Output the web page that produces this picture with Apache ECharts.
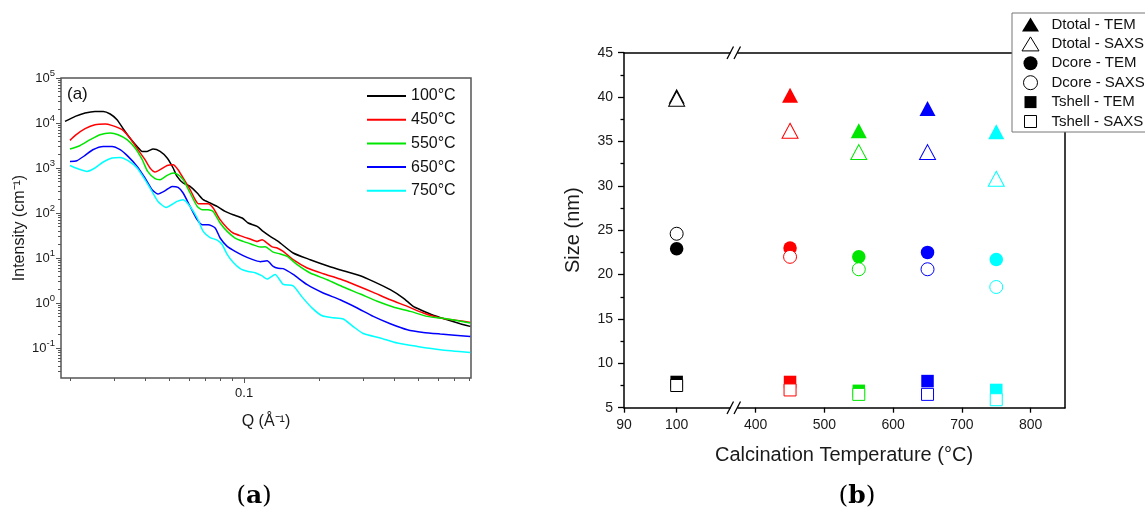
<!DOCTYPE html>
<html><head><meta charset="utf-8">
<script src="https://cdn.jsdelivr.net/npm/echarts@6/dist/echarts.min.js"></script>
<style>html,body{margin:0;padding:0;background:#fff}#c{width:1145px;height:510px}</style>
</head><body><div id="c"></div>
<script>
// ---------- Panel (a): SAXS curves ----------
const seriesNamesA = ['100°C', '450°C', '550°C', '650°C', '750°C'];
const q100 = [0.0191,0.0210,0.0230,0.0252,0.0272,0.0290,0.0309,0.0327,0.0348,0.0372,0.0390,0.0408,0.0431,0.0460,0.0491,0.0519,0.0538,0.0569,0.0607,0.0648,0.0685,0.0730,0.0779,0.0839,0.0903,0.0982,0.1038,0.1128,0.1192,0.1272,0.1369,0.1573,0.1841,0.2154,0.2498,0.2924,0.3297,0.3858,0.4352,0.4772,0.5091,0.5741,0.6536,0.7370,0.8083];
const i100 = [10850,14020,16680,18100,18100,15850,11840,7470,4640,3020,2340,2340,2640,2340,1670,1000,651,464,390,278,198,167,140,108.5,91.7,77.4,59.9,50.4,39.0,30.2,23.4,12.9,9.17,6.74,5.22,4.04,3.02,1.98,1.29,0.84,0.71,0.536,0.426,0.347,0.302];
const q450 = [0.0200,0.0210,0.0230,0.0252,0.0277,0.0294,0.0324,0.0348,0.0375,0.0400,0.0419,0.0439,0.0460,0.0491,0.0519,0.0543,0.0569,0.0607,0.0636,0.0654,0.0685,0.0717,0.0751,0.0801,0.0855,0.0903,0.0982,0.1057,0.1128,0.1181,0.1237,0.1296,0.1357,0.1434,0.1573,0.1791,0.2076,0.2429,0.2843,0.3297,0.3858,0.4516,0.5235,0.6125,0.7166,0.8083];
const i450 = [4105,5300,7470,9170,9500,8840,7100,4640,2550,1530,1000,815,917,1140,1180,917,600,330,198,161,161,161,129,71.0,46.4,35.9,30.2,26.4,23.4,25.5,21.5,17.6,16.7,14.0,9.17,6.0,4.48,3.41,2.42,1.72,1.18,0.84,0.60,0.464,0.411,0.371];
const q550 = [0.0200,0.0219,0.0241,0.0264,0.0290,0.0312,0.0339,0.0365,0.0390,0.0410,0.0439,0.0460,0.0491,0.0519,0.0543,0.0569,0.0607,0.0648,0.0678,0.0717,0.0751,0.0801,0.0855,0.0920,0.0991,0.1077,0.1160,0.1214,0.1308,0.1395,0.1489,0.1633,0.1841,0.2154,0.2498,0.2924,0.3420,0.3967,0.4642,0.5432,0.6536,0.8083];
const i550 = [2640,3130,4260,5500,6000,5500,4260,2780,1530,840,578,550,685,774,710,550,278,140,118,118,108.5,59.9,39.0,27.8,23.4,20.0,17.5,17.8,13.5,12.3,10.9,7.10,4.64,3.29,2.27,1.58,1.09,0.815,0.651,0.504,0.441,0.359];
const q650 = [0.0200,0.0213,0.0230,0.0247,0.0272,0.0295,0.0318,0.0342,0.0372,0.0400,0.0427,0.0451,0.0482,0.0514,0.0543,0.0569,0.0607,0.0648,0.0678,0.0717,0.0765,0.0801,0.0855,0.0920,0.0991,0.1077,0.1160,0.1237,0.1308,0.1369,0.1434,0.1573,0.1791,0.2076,0.2429,0.2843,0.3297,0.3858,0.4516,0.5235,0.6125,0.8083];
const i650 = [1400,1450,1905,2550,3020,3020,2550,1810,1085,600,330,264,313,390,371,278,140,71.0,55.0,55.0,46.4,27.8,18.1,14.0,11.3,9.3,8.3,8.7,6.5,5.9,5.8,4.3,2.55,1.67,1.18,0.774,0.504,0.347,0.255,0.222,0.205,0.181];
const q750 = [0.0200,0.0215,0.0234,0.0252,0.0272,0.0295,0.0318,0.0342,0.0372,0.0400,0.0427,0.0451,0.0486,0.0538,0.0569,0.0607,0.0648,0.0685,0.0730,0.0779,0.0816,0.0855,0.0903,0.0964,0.1038,0.1107,0.1181,0.1237,0.1332,0.1434,0.1573,0.1710,0.1875,0.2057,0.2277,0.2498,0.2741,0.3005,0.3516,0.4116,0.4953,0.6125,0.8083];
const i750 = [1140,965,840,1000,1360,1670,1720,1450,1000,550,302,181,133,181,198,140,77.4,39.0,28.5,25.0,20.0,12.0,8.0,5.8,5.0,4.7,4.0,3.4,4.3,2.6,2.4,1.35,0.77,0.52,0.47,0.44,0.30,0.21,0.167,0.129,0.1085,0.0917,0.0798];

const xMajorA = [0.1];
const xMajorLabelsA = ['0.1'];
const xMinorA = [0.02,0.03,0.04,0.05,0.06,0.07,0.08,0.09,0.2,0.3,0.4,0.5,0.6,0.7,0.8];
const yMajorA = [0.1, 1, 10, 100, 1000, 10000, 100000];
const yMajorExpA = ['-1', '0', '1', '2', '3', '4', '5'];

// ---------- Panel (b): sizes ----------
const temps = [100, 450, 550, 650, 750];
const tempColors = ['#000000', '#ff0000', '#00e600', '#0000ff', '#00ffff'];
const dtotalTEM  = [40.1, 40.2, 36.2, 38.7, 36.1];
const dtotalSAXS = [39.8, 36.2, 33.8, 33.8, 30.8];
const dcoreTEM   = [22.9, 23.0, 22.0, 22.5, 21.7];
const dcoreSAXS  = [24.6, 22.0, 20.6, 20.6, 18.6];
const tshellTEM  = [7.9, 7.9, 6.9, 8.0, 7.0];
const tshellSAXS = [7.5, 7.0, 6.5, 6.5, 5.9];
const xTicksLeftB = [90, 100];
const xTicksRightB = [400, 500, 600, 700, 800];

const FONT = '"Liberation Sans", Arial, Helvetica, sans-serif';
const chart = echarts.init(document.getElementById('c'), null, {renderer: 'canvas'});

function nearestIndex(v, ticks) {
  let best = 0, bd = Infinity;
  ticks.forEach((t, i) => { const d = Math.abs(Math.log10(v) - Math.log10(t)); if (d < bd) { bd = d; best = i; } });
  return best;
}

// minor ticks of the log y axis (2..9 per decade)
const yMinorA = [];
[0.01, 0.1, 1, 10, 100, 1000, 10000].forEach(d => { for (let k = 2; k <= 9; k++) yMinorA.push(+(k * d).toPrecision(3)); });

const curvesA = [[q100, i100], [q450, i450], [q550, i550], [q650, i650], [q750, i750]];
const series = curvesA.map((c, k) => ({
  type: 'line', name: seriesNamesA[k], xAxisIndex: 0, yAxisIndex: 0,
  data: c[0].map((q, j) => [q, c[1][j]]),
  symbol: 'none', smooth: 0.2,
  lineStyle: {color: tempColors[k], width: 1.5}, itemStyle: {color: tempColors[k]},
  emphasis: {disabled: true}, z: 3
}));

// legend icon shapes (bounding box 32x14, shape centred)
const iconTri = 'path://M0,0 M32,14 M16,0 L24.5,14 L7.5,14 Z';
const iconSq = 'path://M0,0 M32,14 M10,1 L22,1 L22,13 L10,13 Z';

const leftMaxB = 110.7, rightMinB = 367;
const measures = [
  {name: 'Dtotal - TEM',  values: dtotalTEM,  symbol: 'triangle', icon: iconTri, open: false, size: [16, 15]},
  {name: 'Dtotal - SAXS', values: dtotalSAXS, symbol: 'triangle', icon: iconTri, open: true,  size: [16, 15]},
  {name: 'Dcore - TEM',   values: dcoreTEM,   symbol: 'circle',   icon: 'circle', open: false, size: 13.5},
  {name: 'Dcore - SAXS',  values: dcoreSAXS,  symbol: 'circle',   icon: 'circle', open: true,  size: 13},
  {name: 'Tshell - TEM',  values: tshellTEM,  symbol: 'rect',     icon: iconSq, open: false, size: 12.5},
  {name: 'Tshell - SAXS', values: tshellSAXS, symbol: 'rect',     icon: iconSq, open: true,  size: 12}
];
measures.forEach((m, mi) => {
  const left = [], right = [];
  temps.forEach((t, i) => {
    const item = {value: [t, m.values[i]],
      itemStyle: m.open ? {color: '#ffffff', borderColor: tempColors[i], borderWidth: 1, opacity: 1}
                        : {color: tempColors[i], borderWidth: 0, opacity: 1}};
    (t <= leftMaxB ? left : right).push(item);
  });
  const base = {type: 'scatter', name: m.name, symbol: m.symbol, symbolSize: m.size,
    itemStyle: {opacity: 1}, emphasis: {disabled: true}, z: 3 + mi * 0.1};
  series.push(Object.assign({}, base, {xAxisIndex: 2, yAxisIndex: 2, data: left}));
  series.push(Object.assign({}, base, {xAxisIndex: 4, yAxisIndex: 3, data: right}));
});

const axisColA = '#555';
const lblCol = '#1a1a1a';
const blk = {color: '#000', width: 1.5};

const option = {
  animation: false,
  backgroundColor: '#fff',
  textStyle: {fontFamily: FONT},
  grid: [
    {left: 61, top: 78, width: 410, height: 300, show: true, borderColor: axisColA, borderWidth: 1.5},
    {left: 624, top: 52.7, width: 109, height: 355},
    {left: 733, top: 52.7, width: 332, height: 355}
  ],
  xAxis: [
    {type: 'log', gridIndex: 0, position: 'bottom', min: 0.01841, max: 0.8136, logBase: 10,
     axisLine: {show: false}, splitLine: {show: false},
     axisTick: {show: true, length: 5, customValues: xMajorA, lineStyle: {color: axisColA, width: 1}},
     axisLabel: {customValues: xMajorA, formatter: v => xMajorLabelsA[nearestIndex(v, xMajorA)], fontSize: 13, color: lblCol, margin: 9},
     name: 'Q (Å⁻¹)', nameLocation: 'middle', nameGap: 36, nameTextStyle: {fontSize: 16, color: lblCol}},
    {type: 'log', gridIndex: 0, position: 'bottom', min: 0.01841, max: 0.8136, logBase: 10,
     axisLine: {show: false}, splitLine: {show: false}, axisLabel: {show: false},
     axisTick: {show: true, length: 3, customValues: xMinorA, lineStyle: {color: axisColA, width: 1}}},
    {type: 'value', gridIndex: 1, position: 'bottom', min: 90, max: leftMaxB,
     axisLine: {show: true, onZero: false, lineStyle: blk}, splitLine: {show: false},
     axisTick: {show: true, length: 5, customValues: xTicksLeftB, lineStyle: {color: '#000', width: 1.3}},
     axisLabel: {customValues: xTicksLeftB, fontSize: 14, color: lblCol, margin: 10}},
    {type: 'value', gridIndex: 1, position: 'top', min: 90, max: leftMaxB,
     axisLine: {show: true, onZero: false, lineStyle: blk}, axisTick: {show: false}, axisLabel: {show: false}, splitLine: {show: false}},
    {type: 'value', gridIndex: 2, position: 'bottom', min: rightMinB, max: 850,
     axisLine: {show: true, onZero: false, lineStyle: blk}, splitLine: {show: false},
     axisTick: {show: true, length: 5, customValues: xTicksRightB, lineStyle: {color: '#000', width: 1.3}},
     axisLabel: {customValues: xTicksRightB, fontSize: 14, color: lblCol, margin: 10}},
    {type: 'value', gridIndex: 2, position: 'top', min: rightMinB, max: 850,
     axisLine: {show: true, onZero: false, lineStyle: blk}, axisTick: {show: false}, axisLabel: {show: false}, splitLine: {show: false}}
  ],
  yAxis: [
    {type: 'log', gridIndex: 0, position: 'left', min: 0.02154, max: 100000, logBase: 10,
     axisLine: {show: false}, splitLine: {show: false},
     axisTick: {show: true, length: 5, customValues: yMajorA, lineStyle: {color: axisColA, width: 1}},
     axisLabel: {customValues: yMajorA, formatter: v => '10{s|' + yMajorExpA[nearestIndex(v, yMajorA)] + '}',
       fontSize: 13, lineHeight: 20, color: lblCol, margin: 6,
       rich: {s: {fontSize: 9.5, lineHeight: 9, verticalAlign: 'top', color: lblCol}}},
     name: 'Intensity (cm⁻¹)', nameLocation: 'middle', nameGap: 33, nameTextStyle: {fontSize: 16, color: lblCol}},
    {type: 'log', gridIndex: 0, position: 'left', min: 0.02154, max: 100000, logBase: 10,
     axisLine: {show: false}, splitLine: {show: false}, axisLabel: {show: false},
     axisTick: {show: true, length: 3, customValues: yMinorA, lineStyle: {color: axisColA, width: 1}}},
    {type: 'value', gridIndex: 1, position: 'left', min: 5, max: 45, interval: 5,
     axisLine: {show: true, onZero: false, lineStyle: blk}, splitLine: {show: false},
     axisTick: {show: true, length: 6, lineStyle: {color: '#000', width: 1.3}},
     minorTick: {show: true, splitNumber: 2, length: 3.5, lineStyle: {color: '#000', width: 1.3}},
     axisLabel: {fontSize: 14, color: lblCol, margin: 11},
     name: 'Size (nm)', nameLocation: 'middle', nameGap: 41, nameTextStyle: {fontSize: 20, color: lblCol}},
    {type: 'value', gridIndex: 2, position: 'right', min: 5, max: 45, interval: 5,
     axisLine: {show: true, onZero: false, lineStyle: blk}, axisTick: {show: false}, axisLabel: {show: false}, splitLine: {show: false}}
  ],
  legend: [
    {left: 366, top: 88, orient: 'vertical', itemWidth: 39, itemHeight: 14, itemGap: 7.7, padding: 0,
     itemStyle: {opacity: 0, color: 'transparent', borderWidth: 0}, lineStyle: {width: 2},
     textStyle: {fontSize: 16, color: '#111'}, data: seriesNamesA, selectedMode: false},
    {left: 1012, top: 13, orient: 'vertical', itemWidth: 32, itemHeight: 14, itemGap: 4.4,
     padding: [4, 20, 3, 2], borderColor: '#777', borderWidth: 1, backgroundColor: '#fff',
     textStyle: {fontSize: 15, color: '#111', lineHeight: 14}, selectedMode: false, z: 10,
     data: measures.map(m => ({name: m.name, icon: m.icon,
       itemStyle: m.open ? {color: '#fff', borderColor: '#000', borderWidth: 1, opacity: 1} : {color: '#000', borderWidth: 0, opacity: 1}}))}
  ],
  graphic: [
    {type: 'text', left: 67, top: 86, z: 100, style: {text: '(a)', fontSize: 17, fill: '#111', fontFamily: FONT}},
    {type: 'text', x: 844, y: 455, z: 100, style: {text: 'Calcination Temperature (°C)', fontSize: 20, fill: lblCol, fontFamily: FONT, textAlign: 'center', textVerticalAlign: 'middle'}},
    {type: 'text', x: 254, y: 496, z: 100, style: {text: '({b|a})', rich: {b: {fontWeight: 'bold', fontSize: 25, fontFamily: '"DejaVu Serif", serif', fill: '#000'}}, fontSize: 25, fontFamily: '"DejaVu Serif", serif', fill: '#000', textAlign: 'center', textVerticalAlign: 'middle'}},
    {type: 'text', x: 857, y: 496, z: 100, style: {text: '({b|b})', rich: {b: {fontWeight: 'bold', fontSize: 25, fontFamily: '"DejaVu Serif", serif', fill: '#000'}}, fontSize: 25, fontFamily: '"DejaVu Serif", serif', fill: '#000', textAlign: 'center', textVerticalAlign: 'middle'}},
    // axis break marks
    {type: 'rect', z: 100, shape: {x: 730.5, y: 50.5, width: 6.8, height: 4.5}, style: {fill: '#fff'}},
    {type: 'rect', z: 100, shape: {x: 730.5, y: 405.5, width: 6.8, height: 4.5}, style: {fill: '#fff'}},
    {type: 'line', z: 101, shape: {x1: 727, y1: 59, x2: 733.5, y2: 46.5}, style: {stroke: '#000', lineWidth: 1.3}},
    {type: 'line', z: 101, shape: {x1: 734, y1: 59, x2: 740.5, y2: 46.5}, style: {stroke: '#000', lineWidth: 1.3}},
    {type: 'line', z: 101, shape: {x1: 727, y1: 414, x2: 733.5, y2: 401.5}, style: {stroke: '#000', lineWidth: 1.3}},
    {type: 'line', z: 101, shape: {x1: 734, y1: 414, x2: 740.5, y2: 401.5}, style: {stroke: '#000', lineWidth: 1.3}}
  ],
  series: series
};
chart.setOption(option);
</script></body></html>
